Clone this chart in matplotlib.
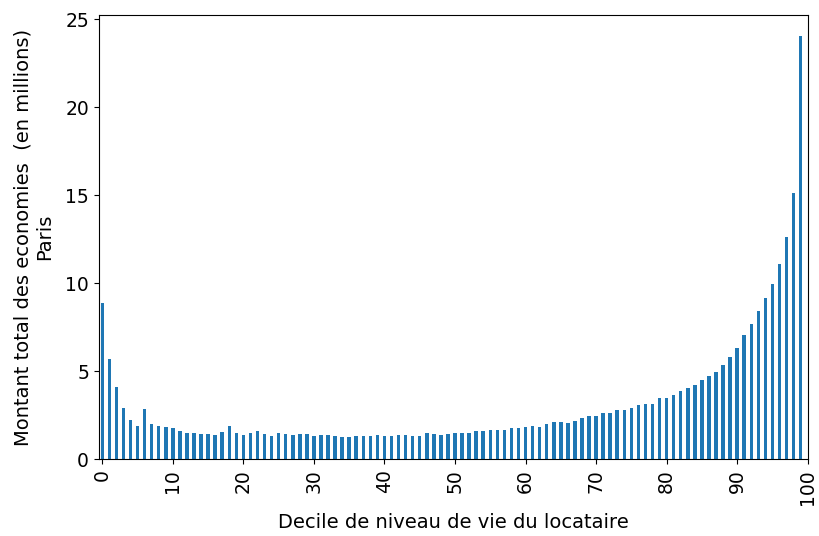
import matplotlib
matplotlib.use('Agg')
import matplotlib.pyplot as plt
import numpy as np

# montant total des economies par centile de niveau de vie (en millions)
centiles = list(range(100))
montants = [
    8.86, 5.71, 4.08, 2.91, 2.21, 1.92, 2.86, 2.00, 1.92, 1.81,
    1.75, 1.60, 1.52, 1.52, 1.43, 1.43, 1.37, 1.54, 1.87, 1.49,
    1.37, 1.49, 1.58, 1.43, 1.30, 1.49, 1.43, 1.37, 1.43, 1.43,
    1.35, 1.37, 1.37, 1.30, 1.24, 1.24, 1.30, 1.30, 1.30, 1.37,
    1.30, 1.30, 1.37, 1.37, 1.30, 1.30, 1.49, 1.43, 1.37, 1.45,
    1.47, 1.49, 1.52, 1.58, 1.58, 1.64, 1.64, 1.68, 1.75, 1.75,
    1.81, 1.87, 1.81, 1.98, 2.13, 2.13, 2.06, 2.19, 2.32, 2.48,
    2.48, 2.61, 2.61, 2.82, 2.82, 2.91, 3.07, 3.12, 3.14, 3.49,
    3.49, 3.66, 3.90, 4.06, 4.21, 4.51, 4.72, 4.95, 5.35, 5.81,
    6.34, 7.05, 7.66, 8.44, 9.16, 9.94, 11.09, 12.61, 15.14, 24.04,
]
ticks = list(range(0, 101, 10))

plt.rcParams['font.size'] = 13.5
plt.rcParams['axes.labelsize'] = 14

fig = plt.figure(figsize=(8.19, 5.36), dpi=100)
ax = fig.add_axes([0.1206, 0.1431, 0.8656, 0.8289])
ax.bar(centiles, montants, width=0.5, color='#1f77b4')
ax.set_xlim(-0.5, 100)
ax.set_xticks(ticks)
ax.set_xticklabels([str(t) for t in ticks], rotation=90)
ax.set_xlabel('Decile de niveau de vie du locataire', labelpad=6)
ax.set_ylabel('Montant total des economies  (en millions)\nParis', labelpad=8)

fig.savefig('out.png', dpi=100)
